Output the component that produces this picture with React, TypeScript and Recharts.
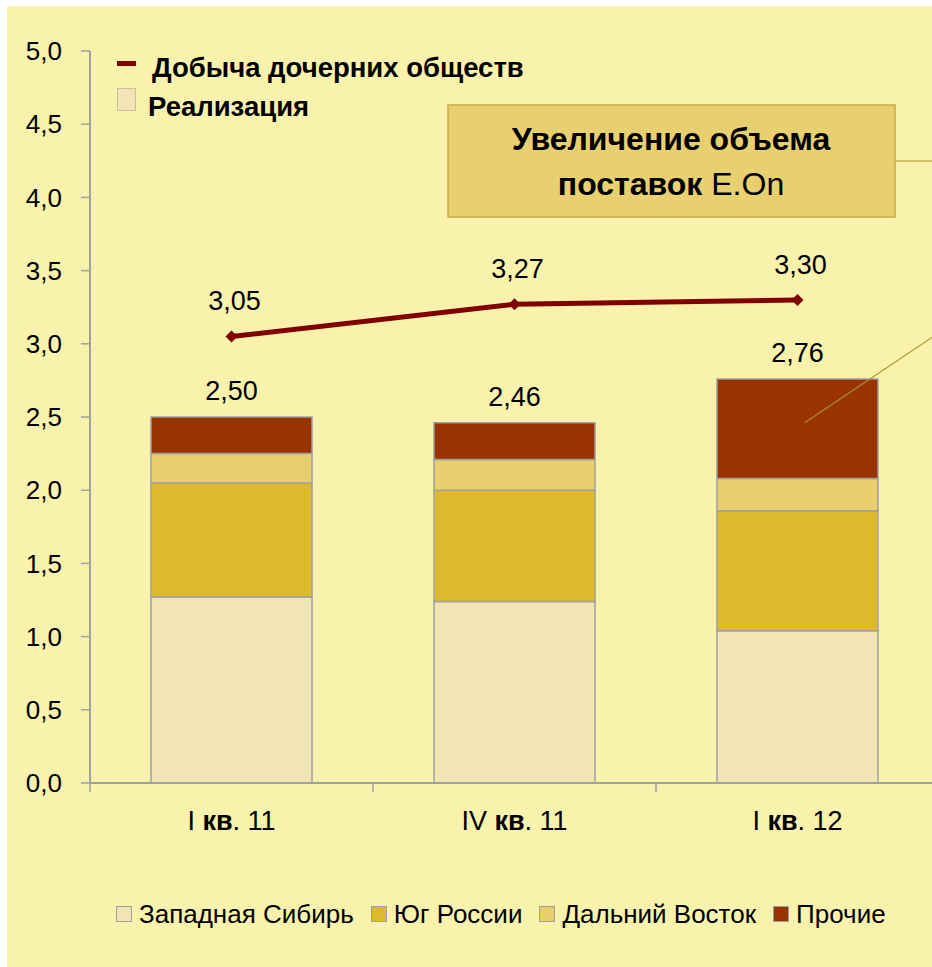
import React from "react";
import { ComposedChart, Bar, Line, XAxis, YAxis, LabelList } from "recharts";

const categories = ["I кв. 11", "IV кв. 11", "I кв. 12"];
const westSiberia = [1.27, 1.24, 1.04];
const southRussia = [0.78, 0.76, 0.82];
const farEast = [0.2, 0.21, 0.22];
const others = [0.25, 0.25, 0.68];
const production = [3.05, 3.27, 3.3];
const yTicks = [0, 0.5, 1, 1.5, 2, 2.5, 3, 3.5, 4, 4.5, 5];

const barSeries = [
  { key: "ws", name: "Западная Сибирь", color: "#F1E5B6" },
  { key: "south", name: "Юг России", color: "#DDB92B" },
  { key: "east", name: "Дальний Восток", color: "#E8CE6C" },
  { key: "other", name: "Прочие", color: "#993300" },
];

const data = categories.map((name, i) => ({
  name,
  ws: westSiberia[i],
  south: southRussia[i],
  east: farEast[i],
  other: others[i],
  total: westSiberia[i] + southRussia[i] + farEast[i] + others[i],
  prod: production[i],
}));

const W = 939;
const H = 967;
const MARGIN = { top: 51, right: 0, left: 0, bottom: 124 };
const Y_AXIS_W = 90;
const X_AXIS_H = 60;
const PLOT_BOTTOM = H - MARGIN.bottom - X_AXIS_H;
const BAND = (W - MARGIN.left - MARGIN.right - Y_AXIS_W) / categories.length;

const SANS = '"Liberation Sans", Arial, sans-serif';
const AXIS = "#A0A0A0";

const fmt = (v: number, d = 2) => v.toFixed(d).replace(".", ",");

function CategoryTick(props: any) {
  const { x, payload, index } = props;
  const [pre, post] = String(payload.value).split("кв");
  const left = x - BAND / 2;
  return (
    <g>
      <line x1={left} x2={left} y1={PLOT_BOTTOM} y2={PLOT_BOTTOM + 9} stroke={AXIS} strokeWidth={1.5} />
      {index === categories.length - 1 && (
        <line x1={left + BAND} x2={left + BAND} y1={PLOT_BOTTOM} y2={PLOT_BOTTOM + 9} stroke={AXIS} strokeWidth={1.5} />
      )}
      <text
        x={x}
        y={PLOT_BOTTOM + 47}
        textAnchor="middle"
        fontSize={27}
        fontFamily={SANS}
        fill="#000"
        style={{ whiteSpace: "pre" }}
      >
        <tspan>{pre}</tspan>
        <tspan fontWeight={700}>кв</tspan>
        <tspan>{post}</tspan>
      </text>
    </g>
  );
}

function Diamond(props: any) {
  const { cx, cy } = props;
  if (cx == null || cy == null) return null;
  const r = 6;
  return (
    <polygon
      points={`${cx},${cy - r} ${cx + r},${cy} ${cx},${cy + r} ${cx - r},${cy}`}
      fill="#800000"
    />
  );
}

const renderTotal = (props: any) => {
  const { x, y, width, value } = props;
  return (
    <text x={x + width / 2} y={y - 17} textAnchor="middle" fontSize={27} fontFamily={SANS} fill="#000">
      {fmt(value)}
    </text>
  );
};

const renderProd = (props: any) => {
  const { x, y, value } = props;
  return (
    <text x={x + 3} y={y - 26} textAnchor="middle" fontSize={27} fontFamily={SANS} fill="#000">
      {fmt(value)}
    </text>
  );
};

export default function App() {
  return (
    <div
      style={{
        position: "absolute",
        left: 0,
        top: 0,
        width: 932,
        height: 967,
        overflow: "hidden",
        background: "#fff",
      }}
    >
      <div
        style={{
          position: "absolute",
          left: 7,
          top: 6,
          width: 925,
          height: 961,
          background: "#F8F2AC",
        }}
      />
      <div style={{ position: "absolute", left: 0, top: 0 }}>
        <ComposedChart width={W} height={H} data={data} margin={MARGIN} barCategoryGap={61}>
          <XAxis
            dataKey="name"
            height={X_AXIS_H}
            interval={0}
            tickLine={false}
            axisLine={{ stroke: AXIS, strokeWidth: 2 }}
            tick={<CategoryTick />}
          />
          <YAxis
            domain={[0, 5]}
            ticks={yTicks}
            interval={0}
            width={Y_AXIS_W}
            tickSize={9}
            tickMargin={19}
            axisLine={{ stroke: AXIS, strokeWidth: 2 }}
            tickLine={{ stroke: AXIS, strokeWidth: 1.5 }}
            tick={{ fill: "#000", fontSize: 26, fontFamily: SANS }}
            tickFormatter={(v: number) => fmt(v, 1)}
          />
          {barSeries.map((s, i) => (
            <Bar
              key={s.key}
              dataKey={s.key}
              name={s.name}
              stackId="supply"
              fill={s.color}
              stroke={AXIS}
              strokeWidth={1.5}
              isAnimationActive={false}
            >
              {i === barSeries.length - 1 && <LabelList dataKey="total" content={renderTotal} />}
            </Bar>
          ))}
          <Line
            dataKey="prod"
            name="Добыча дочерних обществ"
            stroke="#800000"
            strokeWidth={5}
            dot={<Diamond />}
            activeDot={false}
            isAnimationActive={false}
          >
            <LabelList dataKey="prod" content={renderProd} />
          </Line>
        </ComposedChart>
      </div>

      {/* callout and top legend */}
      <svg
        width={932}
        height={967}
        style={{ position: "absolute", left: 0, top: 0, pointerEvents: "none" }}
      >
        <line x1={895} y1={161} x2={940} y2={161} stroke="#A8922E" strokeWidth={1.2} />
        <line x1={805} y1={422.5} x2={940} y2={332} stroke="#A8922E" strokeWidth={1.2} />
        <rect x={448} y={105} width={447} height={112} fill="#E8CF70" stroke="#C9AA45" strokeWidth={1.5} />
        <text x={671} y={150} textAnchor="middle" fontSize={32} fontWeight={700} fontFamily={SANS} fill="#000">
          Увеличение объема
        </text>
        <text x={671} y={195} textAnchor="middle" fontSize={32} fontFamily={SANS} fill="#000" style={{ whiteSpace: "pre" }}>
          <tspan fontWeight={700}>поставок </tspan>
          <tspan>E.On</tspan>
        </text>

        <rect x={117} y={61} width={19} height={5} fill="#800000" />
        <text x={152} y={77} fontSize={27.5} fontWeight={700} fontFamily={SANS} fill="#000">
          Добыча дочерних обществ
        </text>
        <rect x={117.5} y={88.5} width={18} height={22} fill="#F1E5B6" stroke="#C8C0A0" strokeWidth={1} />
        <text x={148} y={116} fontSize={27.5} fontWeight={700} fontFamily={SANS} fill="#000">
          Реализация
        </text>
      </svg>

      {/* bottom legend */}
      <div
        style={{
          position: "absolute",
          left: 116,
          top: 899,
          display: "flex",
          alignItems: "center",
          gap: 17,
          fontFamily: SANS,
          fontSize: 26,
          lineHeight: "30px",
          color: "#000",
          whiteSpace: "nowrap",
        }}
      >
        {barSeries.map((s) => (
          <div key={s.key} style={{ display: "flex", alignItems: "center" }}>
            <span
              style={{
                display: "inline-block",
                width: 14,
                height: 14,
                background: s.color,
                border: "1px solid #A0A0A0",
                marginRight: 7,
              }}
            />
            <span>{s.name}</span>
          </div>
        ))}
      </div>
    </div>
  );
}
